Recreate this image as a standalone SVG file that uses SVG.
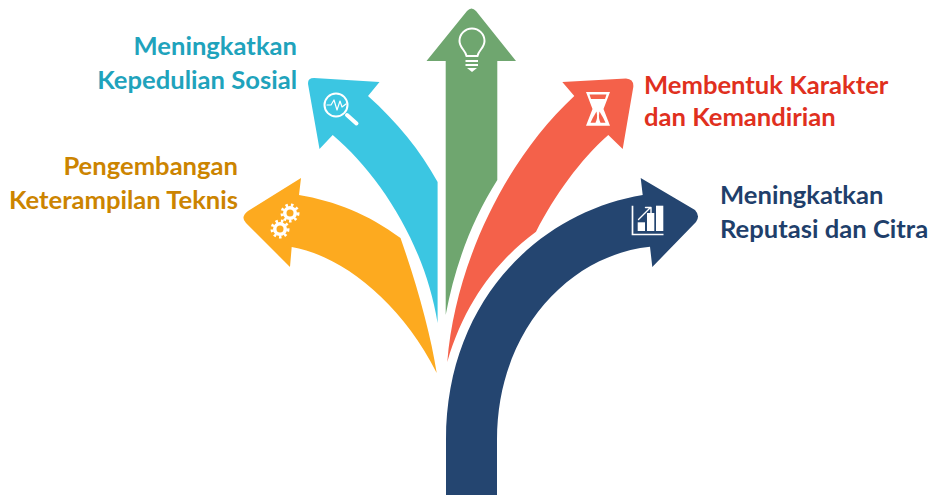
<svg xmlns="http://www.w3.org/2000/svg" width="933" height="495" viewBox="0 0 933 495">
<style>
text{font-family:"Lato","Liberation Sans",sans-serif;font-weight:700;font-size:25.6px}
.w{fill:#fff}
.l{fill:none;stroke:#fff;stroke-width:2;stroke-linecap:round;stroke-linejoin:round}
</style>
<rect width="933" height="495" fill="#fff"/>
<g id="connectors">
<path id="arrow-orange" fill="#FDAA1F" d="M436.7 373C431 335 417 285 400.500 238C368 214 335 201 299 195L301 178L248 211Q240 217 246 223L290 267L291.700 247C340 255 400 300 436.7 373Z"/>
<path id="arrow-blue" fill="#3BC6E2" d="M437.600 323L437.600 182C420 150 397 122 368 96L379.500 82L314 78Q307 78 308.200 85L319.500 149L332.700 135C380 175 425 245 437.600 323Z"/>
<path id="arrow-green" fill="#6FA66F" d="M445.700 315L445.700 61L426.500 61L467 11Q471.500 6 476 11L516 61L497.300 61L497.300 180C472 220 455 265 445.700 315Z"/>
<path id="arrow-red" fill="#F4614A" d="M447.300 362C455 265 505 160 574.300 96L562.300 82L626 78.500Q634 79 633.300 87L622.700 149L608.300 135C580 160 555 195 536 231.700C500 258 465 300 447.300 362Z"/>
<path id="arrow-navy" fill="#244570" d="M446 495L446 440C446 300 540 212 642.700 195L640.700 178L695 210Q700.500 216 696 222L652.300 267L650 246.700C570 255 497 330 497 440L497 495Z"/>
</g>
<g id="node-keterampilan">
<text x="238" y="175" text-anchor="end" fill="#CC8400">Pengembangan</text>
<text x="238" y="209" text-anchor="end" fill="#CC8400">Keterampilan Teknis</text>
<g class="w"><circle cx="290" cy="213" r="7"/><circle cx="280" cy="229" r="7"/>
<g stroke="#fff" stroke-width="3" stroke-dasharray="2.500 2.980"><circle cx="290" cy="213" r="8" fill="none"/><circle cx="280" cy="229" r="8" fill="none"/></g></g>
<circle cx="290" cy="213" r="3.500" fill="#FDAA1F"/><circle cx="280" cy="229" r="3.500" fill="#FDAA1F"/>
</g>
<g id="node-sosial">
<text x="297" y="55" text-anchor="end" fill="#1FA3BC">Meningkatkan</text>
<text x="297" y="89" text-anchor="end" fill="#1FA3BC">Kepedulian Sosial</text>
<circle class="l" cx="336" cy="105" r="11.500"/>
<path class="l" style="stroke-width:1.200" d="M327 105H331L334 100L337 110L340 101L342 107L346 104"/>
<path d="M347 115L356.500 123.500" stroke="#fff" stroke-width="4" stroke-linecap="round"/>
</g>
<g id="node-ide">
<path class="l" d="M466.500 56C465.500 50 459.500 48 459.500 41A12.500 12.500 0 0 1 484.500 41C484.500 48 478.500 50 477.500 56Z"/>
<path d="M465.500 61H478M465.500 65H478" stroke="#fff" stroke-width="2"/>
<path class="w" d="M467 68H477L472 72Z"/>
</g>
<g id="node-karakter">
<text x="644" y="94" fill="#E0301E">Membentuk Karakter</text>
<text x="644" y="126" fill="#E0301E">dan Kemandirian</text>
<path class="w" d="M586 92H610L603.500 109L610 125.700H586L592.500 109Z"/>
<path d="M589.500 94.500H606.500L605 99H591Z" fill="#F4614A"/>
<path d="M596.500 111.500Q592.500 118 590.500 122.800H595.500Q598 118 596.500 111.500Z" fill="#F4614A"/>
<path d="M599.500 111.500Q603.500 118 605.500 122.800H600.500Q598 118 599.500 111.500Z" fill="#F4614A"/>
</g>
<g id="node-reputasi">
<text x="720" y="204" fill="#1F3F6B">Meningkatkan</text>
<text x="720" y="238" fill="#1F3F6B">Reputasi dan Citra</text>
<path class="l" style="stroke-width:1.700;stroke-linecap:butt;stroke-linejoin:miter" d="M632.500 205.700V234.500H663.500"/>
<rect class="w" x="637.700" y="222.300" width="7.300" height="8.700"/><rect class="w" x="647" y="213" width="7.300" height="18"/><rect class="w" x="656" y="205.700" width="7.300" height="25.300"/>
<path class="l" style="stroke-width:1.400" d="M638.500 219.500L650.500 207.500M645.500 207.500H651V213"/>
</g>
</svg>
